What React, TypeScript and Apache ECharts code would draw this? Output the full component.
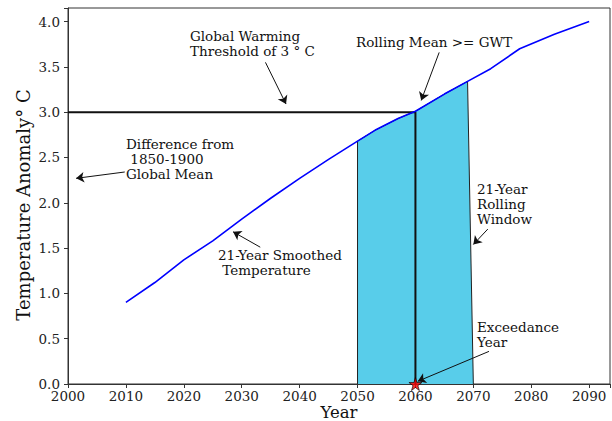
import React, { useEffect, useRef } from "react";
import * as echarts from "echarts";

// ---- data ----
const years = [2010, 2015, 2020, 2025, 2030, 2035, 2040, 2045, 2050, 2053, 2057, 2060, 2065, 2069, 2073, 2078, 2084, 2090];
const anomaly = [0.9, 1.12, 1.37, 1.58, 1.82, 2.05, 2.27, 2.48, 2.68, 2.8, 2.93, 3.01, 3.2, 3.34, 3.48, 3.7, 3.86, 4.0];
const GWT = 3.0;
const exceedanceYear = 2060;
const windowStart = 2050;
const windowEnd = 2070;
const xTicks = [2000, 2010, 2020, 2030, 2040, 2050, 2060, 2070, 2080, 2090];
const yTicks = [0, 0.5, 1, 1.5, 2, 2.5, 3, 3.5, 4];
const X_MIN = 2000;
const X_MAX = 2093.6;
const Y_MIN = 0;
const Y_MAX = 4.15;

// annotation arrows in data coordinates: [fromYear, fromVal, toYear, toVal]
const arrows: number[][] = [
  [2034.1, 3.55, 2037.65, 3.09],
  [2064.1, 3.66, 2061.0, 3.13],
  [2009.8, 2.34, 2001.4, 2.27],
  [2033.2, 1.51, 2028.5, 1.68],
  [2072.5, 1.71, 2070.0, 1.54],
  [2072.7, 0.36, 2060.4, 0.03],
];

const annotationTexts = [
  "Global Warming\nThreshold of 3 ° C",
  "Rolling Mean >= GWT",
  "Difference from\n 1850-1900\nGlobal Mean",
  "21-Year Smoothed\n Temperature",
  "21-Year\nRolling\nWindow",
  "Exceedance\nYear",
];
const annotationPos = [
  [190, 28],
  [356, 34],
  [126, 136],
  [218, 247],
  [477, 181],
  [477, 319],
];

const FONT = '"DejaVu Serif", serif';

export default function App() {
  const ref = useRef<HTMLDivElement>(null);
  useEffect(() => {
    document.body.style.margin = "0";
    if (!ref.current) return;
    const chart = echarts.init(ref.current, undefined, { renderer: "svg" });

    const curve = years.map((y, i) => [y, anomaly[i]]);
    const windowData: number[][] = [[windowStart, 0]];
    curve.forEach((p) => {
      if (p[0] >= windowStart && p[0] < windowEnd) windowData.push(p);
    });
    windowData.push([windowEnd, 0]);

    const option: any = {
      animation: false,
      backgroundColor: "#fff",
      grid: {
        left: 68,
        right: 2,
        top: 8,
        bottom: 37,
        show: true,
        borderColor: "#333",
        borderWidth: 1,
        backgroundColor: "transparent",
        containLabel: false,
        outerBoundsMode: "none",
      },
      xAxis: {
        type: "value",
        min: X_MIN,
        max: X_MAX,
        interval: 10,
        axisLine: { show: true, lineStyle: { color: "#333", width: 1 } },
        axisTick: { show: true, length: 4, lineStyle: { color: "#333" } },
        axisLabel: {
          fontFamily: FONT,
          fontSize: 13.5,
          color: "#222",
          margin: 5,
          formatter: (v: number) => (xTicks.includes(v) ? String(v) : ""),
        },
        splitLine: { show: false },
      },
      yAxis: {
        type: "value",
        min: Y_MIN,
        max: Y_MAX,
        interval: 0.5,
        axisLine: { show: true, lineStyle: { color: "#333", width: 1 } },
        axisTick: { show: true, length: 4, lineStyle: { color: "#333" } },
        axisLabel: {
          fontFamily: FONT,
          fontSize: 13.5,
          color: "#222",
          margin: 8,
          formatter: (v: number) =>
            yTicks.some((t) => Math.abs(t - v) < 1e-9) ? v.toFixed(1) : "",
        },
        splitLine: { show: false },
      },
      series: [
        {
          type: "line",
          data: windowData,
          symbol: "none",
          z: 1,
          silent: true,
          lineStyle: { color: "#222", width: 1 },
          areaStyle: { color: "#58cdea", opacity: 1 },
        },
        {
          type: "line",
          data: [
            [X_MIN, GWT],
            [exceedanceYear, GWT],
            [exceedanceYear, 0],
          ],
          symbol: "none",
          z: 2,
          silent: true,
          lineStyle: { color: "#111", width: 2 },
          markLine: {
            silent: true,
            symbol: ["none", "arrow"],
            symbolSize: 8,
            label: { show: false },
            lineStyle: { color: "#111", width: 1, type: "solid" },
            itemStyle: { color: "#111" },
            emphasis: { disabled: true },
            data: arrows.map((a) => [
              { coord: [a[0], a[1]] },
              { coord: [a[2], a[3]] },
            ]),
          },
        },
        {
          type: "line",
          data: curve,
          symbol: "none",
          z: 3,
          silent: true,
          lineStyle: { color: "#0000ff", width: 1.6 },
        },
        {
          type: "scatter",
          data: [[exceedanceYear, 0]],
          symbol:
            "path://M50,0 L61,35 L98,35 L68,57 L79,91 L50,70 L21,91 L32,57 L2,35 L39,35 Z",
          symbolSize: 13,
          clip: false,
          z: 5,
          silent: true,
          itemStyle: { color: "#ff0000", borderColor: "#000", borderWidth: 0.8 },
        },
      ],
      graphic: [
        ...annotationTexts.map((t, i) => ({
          type: "text",
          x: annotationPos[i][0],
          y: annotationPos[i][1],
          z: 10,
          silent: true,
          style: {
            text: t,
            font: `13.5px ${FONT}`,
            lineHeight: 15,
            fill: "#111",
            align: "left",
            verticalAlign: "top",
          },
        })),
        {
          type: "text",
          x: 23,
          y: 205,
          rotation: Math.PI / 2,
          z: 10,
          silent: true,
          style: {
            text: "Temperature Anomaly° C",
            font: `18px ${FONT}`,
            fill: "#111",
            align: "center",
            verticalAlign: "middle",
          },
        },
        {
          type: "text",
          x: 339,
          y: 412.5,
          z: 10,
          silent: true,
          style: {
            text: "Year",
            font: `16.5px ${FONT}`,
            fill: "#111",
            align: "center",
            verticalAlign: "middle",
          },
        },
      ],
    };
    chart.setOption(option);
    return () => chart.dispose();
  }, []);
  return <div ref={ref} style={{ width: 612, height: 421 }} />;
}
